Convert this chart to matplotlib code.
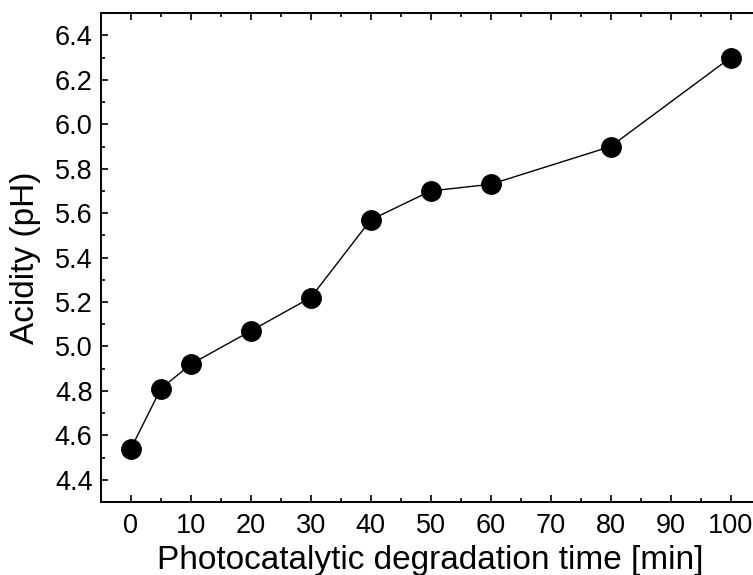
import numpy as np
import matplotlib.pyplot as plt
from matplotlib.ticker import MultipleLocator

plt.rcParams['font.family'] = ['Liberation Sans', 'DejaVu Sans']

# photocatalytic degradation time and measured pH
time_min = [0, 5, 10, 20, 30, 40, 50, 60, 80, 100]
ph = [4.54, 4.81, 4.92, 5.07, 5.22, 5.57, 5.70, 5.73, 5.90, 6.30]

fig = plt.figure(figsize=(7.53, 5.75), dpi=100)
# axes run slightly past the right edge of the canvas, like the reference
ax = fig.add_axes([0.134, 0.127, 0.876, 0.850])

ax.plot(time_min, ph, color='black', lw=1.0, marker='o', ms=14,
        markerfacecolor='black', markeredgecolor='black')

ax.set_xlim(-5, 105)
ax.set_ylim(4.3, 6.5)
ax.xaxis.set_major_locator(MultipleLocator(10))
ax.xaxis.set_minor_locator(MultipleLocator(5))
ax.yaxis.set_major_locator(MultipleLocator(0.2))
ax.yaxis.set_minor_locator(MultipleLocator(0.1))
ax.yaxis.set_major_formatter(plt.FormatStrFormatter('%.1f'))

ax.tick_params(which='both', direction='in', top=True, right=True,
               width=1.2, labelsize=19.5)
ax.tick_params(which='major', length=5)
ax.tick_params(which='minor', length=3)
ax.tick_params(axis='x', pad=8)
ax.tick_params(axis='y', pad=6)
for s in ax.spines.values():
    s.set_linewidth(1.4)

ax.set_xlabel('Photocatalytic degradation time [min]', fontsize=24, labelpad=4)
ax.set_ylabel('Acidity (pH)', fontsize=24, labelpad=10)

fig.savefig('out.png', dpi=100)
